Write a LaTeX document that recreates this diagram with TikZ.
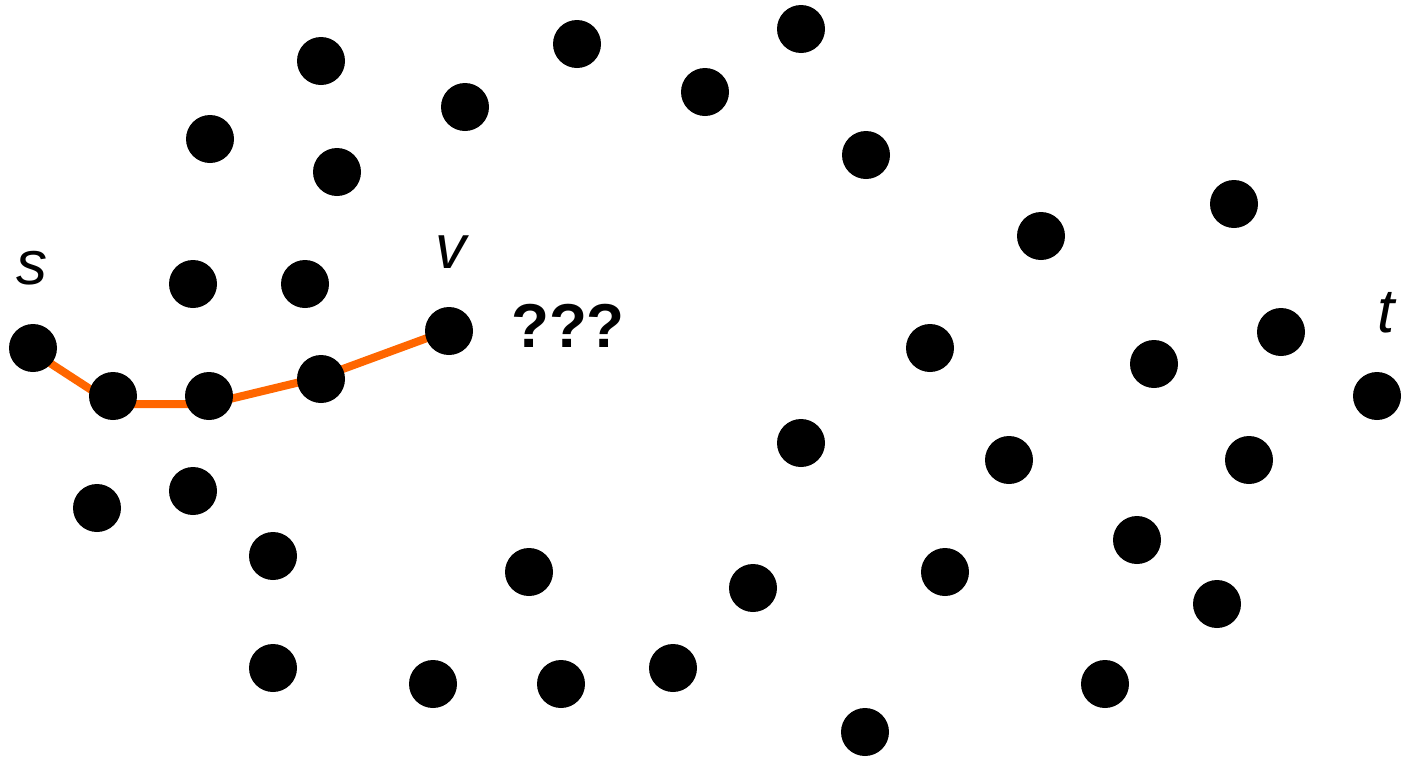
\documentclass[tikz,border=0pt]{standalone}
\usepackage{fontspec}
\setmainfont{Liberation Sans}
\definecolor{pathorange}{HTML}{FF6600}
\begin{document}
\begin{tikzpicture}[x=1pt,y=-1pt,
  dot/.style={circle,fill=black,inner sep=0pt,minimum size=48pt},
  pathedge/.style={draw=pathorange,line width=8pt},
  lbl/.style={anchor=base,inner sep=0pt,font=\fontsize{62}{62}\selectfont\itshape},
  qlbl/.style={anchor=base,inner sep=0pt,font=\fontsize{62}{62}\selectfont\bfseries}]
\useasboundingbox (0,0) rectangle (1402,758);
% path points (the orange path runs slightly off the dot centres)
\coordinate (ps) at (33,352);
\coordinate (p1) at (113,404);
\coordinate (p2) at (209,404);
\coordinate (p3) at (321,377);
\coordinate (pv) at (449,330);
\draw[pathedge] (ps) -- (p1) -- (p2) -- (p3) -- (pv);
% dots
\node[dot] (s) at (33,348) {};
\node[dot] (a1) at (113,396) {};
\node[dot] (a2) at (209,396) {};
\node[dot] (a3) at (321,379) {};
\node[dot] (v) at (449,331) {};
\node[dot] (t) at (1377,396) {};
\node[dot] (d1) at (321,61) {};
\node[dot] (d2) at (577,44) {};
\node[dot] (d3) at (801,29) {};
\node[dot] (d4) at (465,107) {};
\node[dot] (d5) at (705,92) {};
\node[dot] (d6) at (210,139) {};
\node[dot] (d7) at (337,172) {};
\node[dot] (d8) at (866,155) {};
\node[dot] (d9) at (1234,204) {};
\node[dot] (d10) at (1041,236) {};
\node[dot] (d11) at (193,284) {};
\node[dot] (d12) at (305,284) {};
\node[dot] (d15) at (930,348) {};
\node[dot] (d16) at (1154,364) {};
\node[dot] (d17) at (1281,332) {};
\node[dot] (d22) at (801,443) {};
\node[dot] (d23) at (1009,460) {};
\node[dot] (d24) at (1249,460) {};
\node[dot] (d25) at (97,508) {};
\node[dot] (d26) at (193,491) {};
\node[dot] (d27) at (273,556) {};
\node[dot] (d28) at (529,572) {};
\node[dot] (d29) at (753,588) {};
\node[dot] (d30) at (945,572) {};
\node[dot] (d31) at (1137,540) {};
\node[dot] (d32) at (1217,604) {};
\node[dot] (d33) at (273,668) {};
\node[dot] (d34) at (433,684) {};
\node[dot] (d35) at (561,684) {};
\node[dot] (d36) at (673,668) {};
\node[dot] (d37) at (1105,684) {};
\node[dot] (d38) at (865,732) {};
% labels
\node[lbl] (ls) at (32,284) {s};
\node[lbl] (lv) at (451,268) {v};
\node[lbl] (lt) at (1386,332) {t};
\node[qlbl] (lq) at (568,347) {???};
\end{tikzpicture}
\end{document}
